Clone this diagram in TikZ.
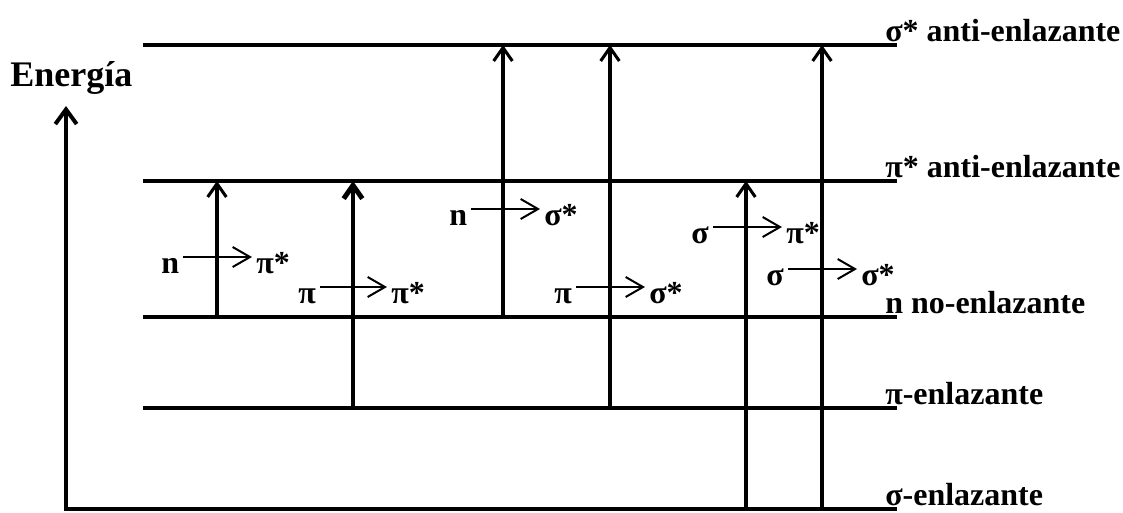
\documentclass[tikz,border=0pt]{standalone}
\usepackage{fontspec}
\setmainfont{Liberation Serif}
\usetikzlibrary{arrows.meta,positioning}

\begin{document}
\begin{tikzpicture}[x=0.75pt, y=-0.75pt, font=\bfseries\fontsize{24}{28}\selectfont,
    level/.style={line width=2.6pt},
    trans/.style={line width=2.3pt, -{Straight Barb[length=10pt,width=14pt]}},
    tag/.style={inner xsep=3pt, inner ysep=0pt, anchor=base west},
    lblarrow/.style={line width=1.5pt, -{Straight Barb[length=13pt,width=15pt]}}]
  \useasboundingbox (0,0) rectangle (1123,512);
  % ---------------------------------------------------------------- energy axis
  \node[anchor=base west, inner sep=0pt, font=\bfseries\fontsize{27}{30}\selectfont] (energia) at (10,86) {Energía};
  \draw[line width=3pt, -{Straight Barb[length=11pt,width=16pt]}] (66,510) -- (66,106);
  % ---------------------------------------------------------------- the levels, with their names on the right
  \foreach \yy/\xs/\name in {45/143/σ* anti-enlazante, 181/143/π* anti-enlazante,
      317/143/n no-enlazante, 408/143/π-enlazante, 509/64/σ-enlazante} {
    \draw[level] (\xs,\yy) -- (897,\yy);
    \node[anchor=base west, inner sep=0pt] at (885,\yy-4) {\name};
  }
  % ---------------------------------------------------------------- the transitions (x, from, to, width)
  \foreach \x/\from/\to/\w in {217/317/181/2.3pt, 353/408/181/3.7pt, 503/317/45/2.3pt,
      610/408/45/2.3pt, 746/509/181/2.3pt, 822/509/45/2.3pt}
    \draw[trans, line width=\w] (\x,\from) -- (\x,\to);
  % their labels: start level -> end level
  \foreach \a/\b/\xa/\xb/\yb/\nm in {n/π*/157/252/273/np, π/π*/294/387/303/pp,
      n/σ*/445/540/225/ns, π/σ*/550/645/303/ps, σ/π*/687/782/243/sp, σ/σ*/762/857/285/ss} {
    \node[tag] (\nm a) at (\xa,\yb) {\a};
    \node[tag] (\nm b) at (\xb,\yb) {\b};
    \draw[lblarrow] ([yshift=12pt]\nm a.base east) -- ([yshift=12pt]\nm b.base west);
  }
\end{tikzpicture}
\end{document}
